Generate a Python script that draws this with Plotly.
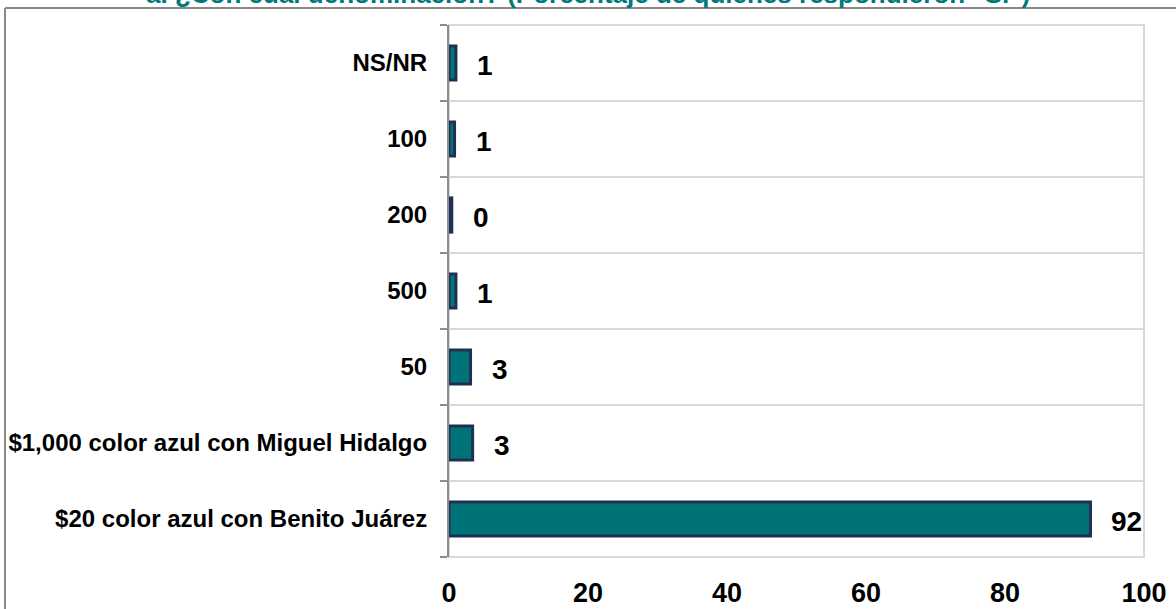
import plotly.graph_objects as go

categories = [
    "$20 color azul con Benito Juárez",
    "$1,000 color azul con Miguel Hidalgo",
    "50",
    "500",
    "200",
    "100",
    "NS/NR",
]
values = [92.3, 3.4, 3.1, 1.0, 0.4, 0.8, 1.0]
labels = [f"{v:.0f}" for v in values]
x_ticks = [0, 20, 40, 60, 80, 100]
title_text = "a. ¿Con cuál denominación? (Porcentaje de quienes respondieron \"Sí\")"

W, H = 1176, 609
ML, MR, MT, MB = 449, 32, 25, 52
PW, PH = W - ML - MR, H - MT - MB

def px_x(p):
    return (p - ML) / PW

def px_y(p):
    return (H - MB - p) / PH

font_fam = "Liberation Sans, Arial, sans-serif"

fig = go.Figure()
fig.add_trace(go.Bar(
    y=categories, x=values, orientation="h",
    marker=dict(color="#007378", line=dict(color="#1f3152", width=3)),
    width=0.45,
    hoverinfo="x+y",
))

for i, (v, t) in enumerate(zip(values, labels)):
    fig.add_annotation(
        x=v, y=i, text=t, showarrow=False,
        xanchor="left", yanchor="middle", xshift=19, yshift=-2,
        font=dict(family=font_fam, size=28, color="#000000", weight="bold"),
    )

# title (partly above the top edge, as in the reference)
fig.add_annotation(
    xref="paper", yref="paper", x=px_x(588), y=px_y(11),
    xanchor="center", yanchor="bottom", showarrow=False,
    text=title_text,
    font=dict(family=font_fam, size=26, color="#00797d", weight="bold"),
)

# plot area light border
fig.add_shape(type="rect", xref="paper", yref="paper", x0=0, x1=1, y0=0, y1=1,
              line=dict(color="#d9d9d9", width=2), layer="below")
# outer chart frame
fig.add_shape(type="line", xref="paper", yref="paper",
              x0=px_x(5), x1=px_x(1190), y0=px_y(8), y1=px_y(8),
              line=dict(color="#898989", width=2))
fig.add_shape(type="line", xref="paper", yref="paper",
              x0=px_x(5), x1=px_x(5), y0=px_y(8), y1=px_y(640),
              line=dict(color="#898989", width=2))

fig.update_layout(
    width=W, height=H,
    margin=dict(l=ML, r=MR, t=MT, b=MB, autoexpand=False),
    paper_bgcolor="white", plot_bgcolor="white",
    showlegend=False,
    xaxis=dict(
        range=[0, 100], tickvals=x_ticks,
        showgrid=False, zeroline=False, showline=False, ticks="",
        tickfont=dict(family=font_fam, size=27, color="#000000", weight="bold"),
        ticklabelstandoff=17, automargin=False,
    ),
    yaxis=dict(
        type="category",
        categoryorder="array", categoryarray=categories,
        range=[-0.5, len(categories) - 0.5],
        tickson="boundaries", ticks="outside", ticklen=7, tickwidth=2, tickcolor="#8c8c8c",
        showgrid=True, gridcolor="#d9d9d9", gridwidth=2,
        showline=True, linecolor="#8c8c8c", linewidth=2,
        tickfont=dict(family=font_fam, size=24, color="#000000", weight="bold"),
        ticklabelstandoff=15, automargin=False,
    ),
)

fig.write_html("out.html", config={"displayModeBar": False},
               post_script="document.body.style.margin='0';")
